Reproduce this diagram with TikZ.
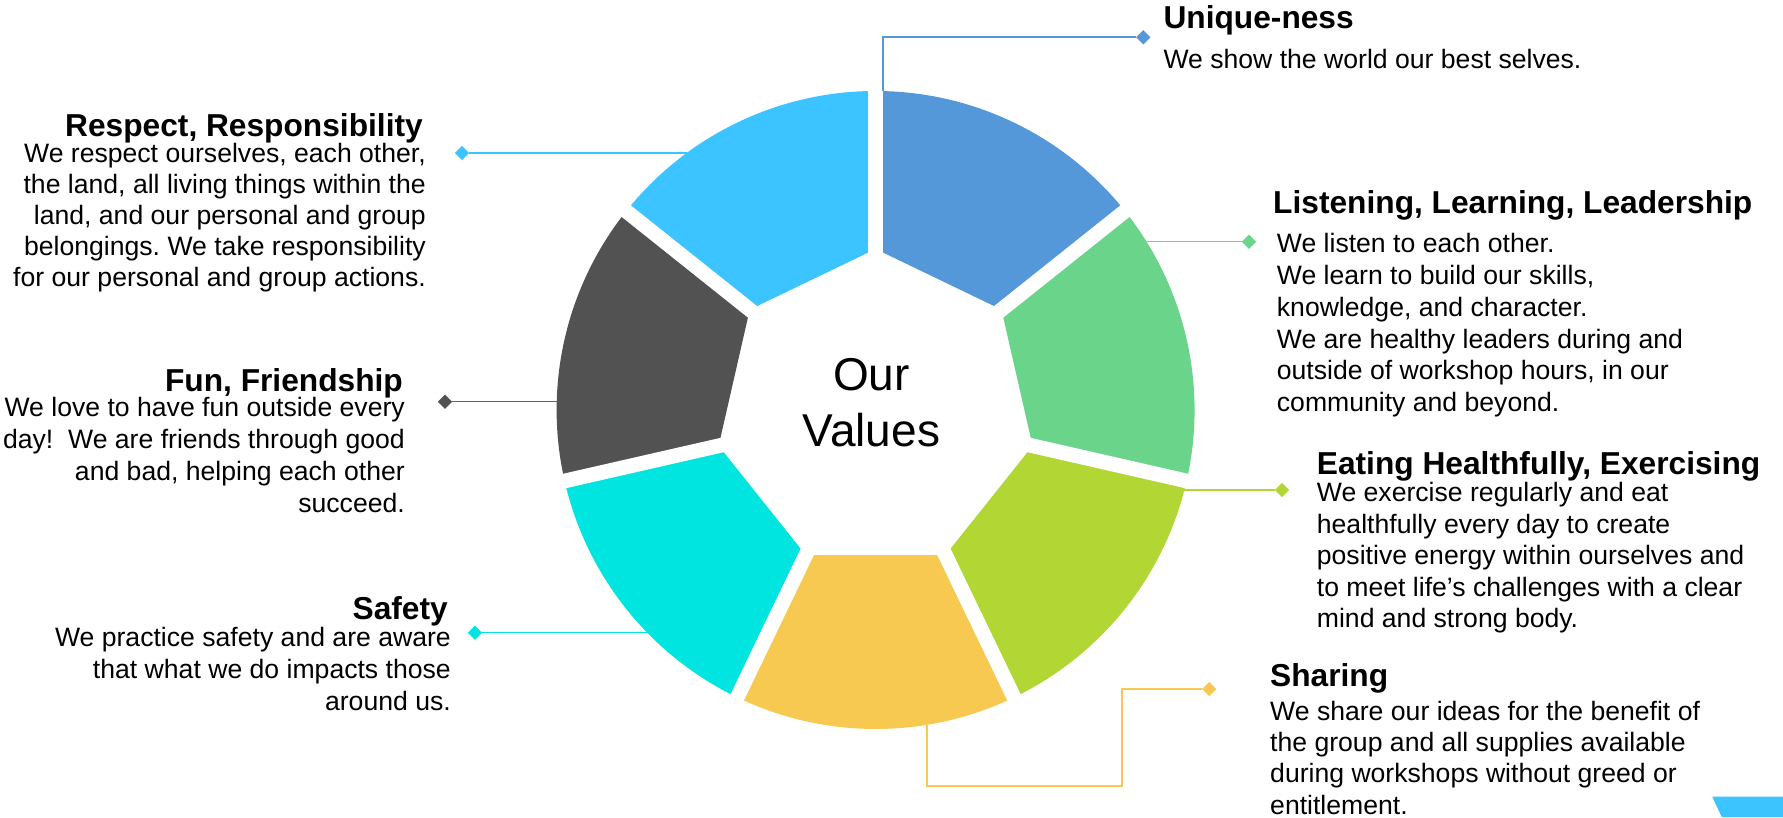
\documentclass[tikz,border=0pt]{standalone}
\usepackage{fontspec}
\setmainfont{Liberation Sans}
\usetikzlibrary{shapes.geometric}
\frenchspacing
\definecolor{cBlue}{HTML}{5498DA}
\definecolor{cGreen}{HTML}{6AD48A}
\definecolor{cLime}{HTML}{B2D634}
\definecolor{cYellow}{HTML}{F7C950}
\definecolor{cCyan}{HTML}{00E5E0}
\definecolor{cDark}{HTML}{525252}
\definecolor{cSky}{HTML}{3BC4FF}
\newcommand{\bodyfont}[1]{\fontsize{26.6}{#1}\selectfont}
\begin{document}
\begin{tikzpicture}[x=1pt,y=1pt,
  gapline/.style={white,line width=14.7pt},
  conn/.style={line width=1.6pt},
  dmd/.style={diamond,inner sep=0pt,minimum width=14.5pt,minimum height=14.5pt,draw=none},
  head/.style={font=\fontsize{31.7}{38}\selectfont\bfseries,inner sep=0pt},
  body/.style={font=\bodyfont{31.6},inner sep=0pt},
  seg/.style={draw=none}]
\useasboundingbox (0,0) rectangle (1783,817);
% ring
\begin{scope}[shift={(875.6,407)}]
\fill[seg,cBlue]   (38.571:161) -- (38.571:319) arc[start angle=38.571,end angle=90,radius=319] -- (90:161) -- cycle;
\fill[seg,cGreen]  (-12.857:161) -- (-12.857:319) arc[start angle=-12.857,end angle=38.571,radius=319] -- (38.571:161) -- cycle;
\fill[seg,cLime]   (-64.286:161) -- (-64.286:319) arc[start angle=-64.286,end angle=-12.857,radius=319] -- (-12.857:161) -- cycle;
\fill[seg,cYellow] (-115.714:161) -- (-115.714:319) arc[start angle=-115.714,end angle=-64.286,radius=319] -- (-64.286:161) -- cycle;
\fill[seg,cCyan]   (-167.143:161) -- (-167.143:319) arc[start angle=-167.143,end angle=-115.714,radius=319] -- (-115.714:161) -- cycle;
\fill[seg,cDark]   (141.429:161) -- (141.429:319) arc[start angle=141.429,end angle=192.857,radius=319] -- (192.857:161) -- cycle;
\fill[seg,cSky]    (90:161) -- (90:319) arc[start angle=90,end angle=141.429,radius=319] -- (141.429:161) -- cycle;
\foreach \a in {90,38.571,-12.857,-64.286,-115.714,-167.143,141.429}
  \draw[gapline] (0,0) -- (\a:320);
\end{scope}
\node[align=center,anchor=base,inner sep=0pt,font=\fontsize{46}{56.5}\selectfont] (our) at (871.5,370) {Our\\Values};
% diamonds
\node[dmd,fill=cBlue]   (dU)  at (1143.3,779.7) {};
\node[dmd,fill=cSky]    (dR)  at (462,664) {};
\node[dmd,fill=cGreen]  (dL)  at (1249,575.3) {};
\node[dmd,fill=cDark]   (dF)  at (445,415.3) {};
\node[dmd,fill=cLime]   (dE)  at (1282,327) {};
\node[dmd,fill=cCyan]   (dS)  at (475,184.3) {};
\node[dmd,fill=cYellow] (dSh) at (1209.3,128) {};
% ring anchor points
\coordinate (cU) at (883,726.3);
\coordinate (cR) at (686.6,664);
\coordinate (cL) at (1146.6,575.3);
\coordinate (cF) at (556.7,415.3);
\coordinate (cE) at (1184.4,327);
\coordinate (cS) at (647,184.3);
\coordinate (cSh) at (927,92.3);
\coordinate (sh2) at (1121.7,31.3);
% connectors
\draw[conn,cBlue] (dU) -| (cU);
\draw[conn,cSky] (dR) -- (cR);
\draw[conn,cGreen] (cL) -- (dL);
\draw[conn,cDark!90] (dF) -- (cF);
\draw[conn,cLime] (cE) -- (dE);
\draw[conn,cCyan] (dS) -- (cS);
\draw[conn,cYellow] (cSh) |- (sh2) |- (dSh);
% texts (multi-line nodes: base = last line's baseline)
\node[head,anchor=base west] (hU) at (1163.3,788.7) {Unique-ness};
\node[body,anchor=base west] (bU) at (1163.3,748.7) {We show the world our best selves.};
\node[head,anchor=base east] (hR) at (423,680.3) {Respect, Responsibility};
\node[body,font=\bodyfont{31},anchor=base east,align=right] (bR) at (426,530) {We respect ourselves, each other,\\the land, all living things within the\\land, and our personal and group\\belongings. We take responsibility\\for our personal and group actions.};
\node[head,anchor=base west] (hL) at (1273,603.7) {Listening, Learning, Leadership};
\node[body,font=\bodyfont{31.8},anchor=base west,align=left] (bL) at (1276.7,405.3) {We listen to each other.\\We learn to build our skills,\\knowledge, and character.\\We are healthy leaders during and\\outside of workshop hours, in our\\community and beyond.};
\node[head,anchor=base east] (hF) at (403,425.3) {Fun, Friendship};
\node[body,font=\bodyfont{32.1},anchor=base east,align=right] (bF) at (405,304) {We love to have fun outside every\\day!\ \ We are friends through good\\and bad, helping each other\\succeed.};
\node[head,anchor=base west] (hE) at (1316.7,342) {Eating Healthfully, Exercising};
\node[body,font=\bodyfont{31.6},anchor=base west,align=left] (bE) at (1316.7,189) {We exercise regularly and eat\\healthfully every day to create\\positive energy within ourselves and\\to meet life’s challenges with a clear\\mind and strong body.};
\node[head,anchor=base east] (hS) at (448,197) {Safety};
\node[body,font=\bodyfont{32},anchor=base east,align=right] (bS) at (451,106.3) {We practice safety and are aware\\that what we do impacts those\\around us.};
\node[head,anchor=base west] (hSh) at (1270,130.3) {Sharing};
\node[body,font=\bodyfont{31.3},anchor=base west,align=left] (bSh) at (1270,3) {We share our ideas for the benefit of\\the group and all supplies available\\during workshops without greed or\\entitlement.};
% corner shape
\fill[cSky] (1712.3,20.3) -- (1783,20.3) -- (1783,0) -- (1721.7,0) -- cycle;
\end{tikzpicture}
\end{document}
